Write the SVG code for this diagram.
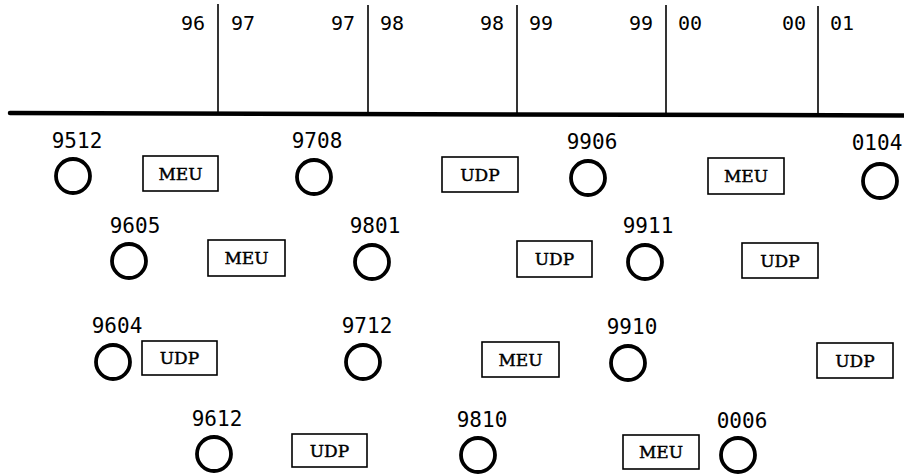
<svg xmlns="http://www.w3.org/2000/svg" width="904" height="474" viewBox="0 0 904 474">
<style>
.yr{font-family:"DejaVu Sans Mono","Liberation Mono",monospace;font-size:20px;fill:#000}
.lbl{font-family:"DejaVu Sans Mono","Liberation Mono",monospace;font-size:21px;fill:#000;text-anchor:middle}
.box rect{fill:#fff;stroke:#000;stroke-width:1.6}
.box text{font-family:"DejaVu Serif","Liberation Serif",serif;font-size:17px;fill:#000;stroke:#000;stroke-width:0.45;text-anchor:middle}
.node circle{fill:none;stroke:#000;stroke-width:3.8}
.axis{stroke:#000;fill:none}
</style>
<g id="timeline">
<path class="axis" d="M10 113 L904 115.5" stroke-width="4.5" stroke-linecap="round"/>
<line class="axis" x1="218" y1="4" x2="218" y2="113" stroke-width="1.6"/>
<line class="axis" x1="368" y1="5" x2="368" y2="114" stroke-width="1.6"/>
<line class="axis" x1="517" y1="5" x2="517" y2="114" stroke-width="1.6"/>
<line class="axis" x1="666" y1="5" x2="666" y2="114" stroke-width="1.6"/>
<line class="axis" x1="818" y1="6" x2="818" y2="115" stroke-width="1.6"/>
<text class="yr" x="205" y="30" text-anchor="end">96</text>
<text class="yr" x="231" y="30">97</text>
<text class="yr" x="355" y="30" text-anchor="end">97</text>
<text class="yr" x="380" y="30">98</text>
<text class="yr" x="504" y="30" text-anchor="end">98</text>
<text class="yr" x="529" y="30">99</text>
<text class="yr" x="653" y="30" text-anchor="end">99</text>
<text class="yr" x="678" y="30">00</text>
<text class="yr" x="806" y="30" text-anchor="end">00</text>
<text class="yr" x="830" y="30">01</text>
</g>
<g id="connectors"></g>
<!-- row 1 -->
<g id="n9512" class="node"><text class="lbl" x="77" y="148">9512</text><circle cx="73" cy="176" r="17"/></g>
<g id="b1" class="box"><rect x="143" y="156" width="75" height="35"/><text x="180.5" y="180">MEU</text></g>
<g id="n9708" class="node"><text class="lbl" x="317" y="148">9708</text><circle cx="314" cy="177" r="17"/></g>
<g id="b2" class="box"><rect x="442" y="157" width="76" height="35"/><text x="480" y="181">UDP</text></g>
<g id="n9906" class="node"><text class="lbl" x="592" y="149">9906</text><circle cx="588" cy="178" r="17"/></g>
<g id="b3" class="box"><rect x="708" y="158" width="76" height="36"/><text x="746" y="182">MEU</text></g>
<g id="n0104" class="node"><text class="lbl" x="877" y="150">0104</text><circle cx="880" cy="181" r="17"/></g>
<!-- row 2 -->
<g id="n9605" class="node"><text class="lbl" x="135" y="233">9605</text><circle cx="129" cy="261" r="17"/></g>
<g id="b4" class="box"><rect x="208" y="240" width="77" height="36"/><text x="246.5" y="264">MEU</text></g>
<g id="n9801" class="node"><text class="lbl" x="375" y="233">9801</text><circle cx="372" cy="262" r="17"/></g>
<g id="b5" class="box"><rect x="517" y="241" width="75" height="36"/><text x="554.5" y="265">UDP</text></g>
<g id="n9911" class="node"><text class="lbl" x="648" y="233">9911</text><circle cx="645" cy="262" r="17"/></g>
<g id="b6" class="box"><rect x="742" y="243" width="76" height="35"/><text x="780" y="267">UDP</text></g>
<!-- row 3 -->
<g id="n9604" class="node"><text class="lbl" x="117" y="333">9604</text><circle cx="113" cy="362" r="17"/></g>
<g id="b7" class="box"><rect x="142" y="341" width="75" height="34"/><text x="179.5" y="364">UDP</text></g>
<g id="n9712" class="node"><text class="lbl" x="367" y="333">9712</text><circle cx="363" cy="362" r="17"/></g>
<g id="b8" class="box"><rect x="482" y="342" width="77" height="35"/><text x="520.5" y="366">MEU</text></g>
<g id="n9910" class="node"><text class="lbl" x="632" y="334">9910</text><circle cx="628" cy="363" r="17"/></g>
<g id="b9" class="box"><rect x="817" y="343" width="76" height="35"/><text x="855" y="367">UDP</text></g>
<!-- row 4 -->
<g id="n9612" class="node"><text class="lbl" x="217" y="426">9612</text><circle cx="214" cy="454" r="17"/></g>
<g id="b10" class="box"><rect x="292" y="434" width="75" height="33"/><text x="329.5" y="457">UDP</text></g>
<g id="n9810" class="node"><text class="lbl" x="482" y="427">9810</text><circle cx="478" cy="455" r="17"/></g>
<g id="b11" class="box"><rect x="623" y="435" width="76" height="34"/><text x="661" y="458">MEU</text></g>
<g id="n0006" class="node"><text class="lbl" x="742" y="428">0006</text><circle cx="738" cy="455" r="17"/></g>
</svg>
